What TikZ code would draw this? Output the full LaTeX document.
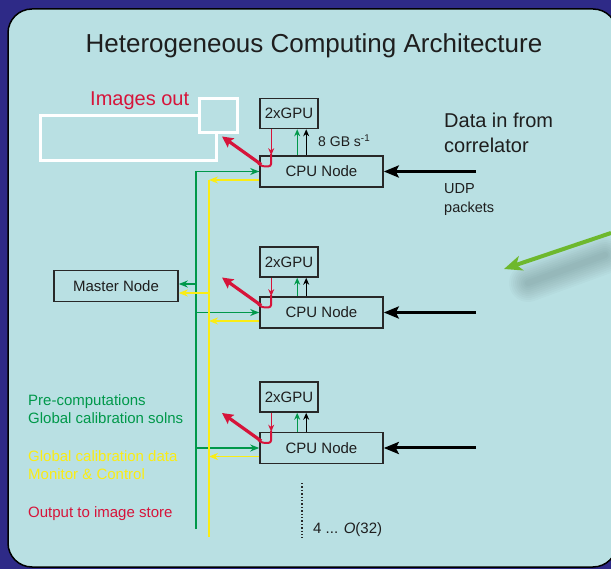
\documentclass[tikz,border=0pt]{standalone}
\usepackage{fontspec}
\setmainfont{Liberation Sans}
\usetikzlibrary{arrows.meta,calc}
\definecolor{bgblue}{RGB}{46,42,135}
\definecolor{panel}{RGB}{185,224,227}
\definecolor{busgreen}{RGB}{0,152,74}
\definecolor{busyellow}{RGB}{250,236,20}
\definecolor{outred}{RGB}{214,20,58}
\definecolor{boxline}{RGB}{40,40,40}
\definecolor{txt}{RGB}{30,30,30}
\definecolor{pointer}{RGB}{110,184,45}
\begin{document}
\begin{tikzpicture}[x=1pt,y=-1pt,
  box/.style={draw=boxline, line width=1.6pt, inner sep=0pt, text=txt,
    font=\fontsize{15}{18}\selectfont},
  lbl/.style={inner sep=0pt, anchor=base west, font=\fontsize{15}{18}\selectfont},
  garrow/.style={draw=busgreen, line width=1.5pt, -{Stealth[length=9pt,width=7pt]}},
  yarrow/.style={draw=busyellow, line width=1.5pt, -{Stealth[length=9pt,width=7pt]}},
  gbus/.style={draw=busgreen, line width=1.8pt},
  ybus/.style={draw=busyellow, line width=1.8pt},
  upgreen/.style={draw=busgreen, line width=1.2pt, -{Stealth[length=7pt,width=6pt]}},
  upblack/.style={draw=black, line width=1.2pt, -{Stealth[length=7pt,width=6pt]}},
  downred/.style={draw=outred, line width=1.2pt, -{Stealth[length=7pt,width=6pt]}},
  hook/.style={draw=outred, line width=2pt, rounded corners=3pt},
  outarrow/.style={draw=outred, line width=3.2pt, -{Stealth[length=11pt,width=11pt,inset=2pt]}},
  inarrow/.style={draw=black, line width=3pt, -{Stealth[length=15pt,width=12pt,inset=3pt]}},
  whitebox/.style={draw=white, line width=3pt}
]
\fill[bgblue] (0,0) rectangle (611,569);
\useasboundingbox (0,0) rectangle (611,569);
\draw[fill=panel, draw=black, line width=1.5pt, rounded corners=24pt] (8,9) rectangle (617,567);

% title
\node[inner sep=0pt, anchor=base, text=txt, font=\fontsize{26}{30}\selectfont] (title) at (314,53) {Heterogeneous Computing Architecture};

% images out
\node[inner sep=0pt, anchor=base west, text=outred, font=\fontsize{20}{24}\selectfont] (imgtxt) at (90,106) {Images out};
\draw[whitebox] (40,116) rectangle (216,161);
\draw[whitebox, fill=panel] (199,99) rectangle (237,133);

% master node
\node[box, minimum width=124pt, minimum height=31pt] (master) at (116,286) {Master Node};

% bus
\coordinate (gb) at (196,529);
\coordinate (yb) at (209,537);

% rows
\foreach \i/\yc/\yg in {1/171.5/113.5, 2/312.5/262, 3/448/397} {
  \node[box, minimum width=123pt, minimum height=31pt] (cpu\i) at (321.5,\yc) {CPU Node};
  \node[box, minimum width=58pt, minimum height=30pt] (gpu\i) at (289,\yg) {2xGPU};
  \coordinate (in\i) at (476,\yc);
  \draw[inarrow] (in\i) -- (cpu\i.east);
  % gpu <-> cpu
  \draw[downred] ($(gpu\i.south west)+(12,0)$) -- ($(cpu\i.north west)+(12,0)$);
  \draw[upgreen] ($(cpu\i.north west)+(38,0)$) -- ($(gpu\i.south west)+(38,0)$);
  \draw[upblack] ($(cpu\i.north west)+(47,0)$) -- ($(gpu\i.south west)+(47,0)$);
  % red output
  \draw[hook] ($(cpu\i.north west)+(12,-1)$) -- ($(cpu\i.west)+(12,-5)$) -- ($(cpu\i.west)+(3,-5)$) -- ($(cpu\i.west)+(-1,-8)$);
  \coordinate (out\i) at (222,\yc-35);
  \draw[outarrow] ($(cpu\i.west)+(2,-7)$) -- (out\i);
  % yellow from cpu
  \coordinate (yj\i) at (209,\yc+8.5);
  \draw[yarrow] ($(cpu\i.west)+(0,8.5)$) -- (yj\i);
}
% green bus + arrows
\draw[gbus] (gb) |- (cpu1.west);
\draw[garrow] (cpu1.west -| gb) -- (cpu1.west);
\draw[garrow] (cpu2.west -| gb) -- (cpu2.west);
\draw[garrow] (cpu3.west -| gb) -- (cpu3.west);
% yellow bus
\draw[ybus] (yb) -- (yj1);
% master links
\coordinate (mg) at (196,284);
\coordinate (my) at (209,293);
\draw[garrow] (mg) -- (mg -| master.east);
\draw[yarrow] (my) -- (my -| master.east);

% labels
\node[lbl, text=txt, font=\fontsize{14}{17}\selectfont] (gbps) at (318,147) {8 GB s\textsuperscript{-1}};
\node[inner sep=0pt, anchor=base west, text=txt, font=\fontsize{20}{24}\selectfont] (data1) at (444,128) {Data in from};
\node[inner sep=0pt, anchor=base west, text=txt, font=\fontsize{20}{24}\selectfont] (data2) at (444,153) {correlator};
\node[lbl, text=txt, font=\fontsize{14.5}{17}\selectfont] (udp1) at (444,194) {UDP};
\node[lbl, text=txt, font=\fontsize{14.5}{17}\selectfont] (udp2) at (444,213) {packets};

\node[lbl, text=busgreen] (l1) at (28,406) {Pre-computations};
\node[lbl, text=busgreen] (l2) at (28,424) {Global calibration solns};
\node[lbl, text=busyellow] (l3) at (28,462) {Global calibration data};
\node[lbl, text=busyellow] (l4) at (28,479) {Monitor \& Control};
\node[lbl, text=outred] (l5) at (28,517) {Output to image store};

% more nodes
\coordinate (dt) at (302,483);
\coordinate (db) at (302,538);
\draw[boxline, line width=1.4pt, dotted] (dt) -- (db);
\node[lbl, text=txt] (more) at (313,533) {4 ... \textit{O}(32)};

% pointer arrow with soft shadow
\foreach \k [evaluate=\k as \w using 2+4*\k] in {1,...,9} {
  \draw[black, opacity=0.018, line width=\w pt, line cap=round] (528,283) -- (605,255);
}
\coordinate (ps) at (611,233);
\coordinate (pt) at (504,269);
\draw[pointer, line width=4pt, -{Stealth[length=18pt,width=15pt,inset=5pt]}] (ps) -- (pt);
\end{tikzpicture}
\end{document}
